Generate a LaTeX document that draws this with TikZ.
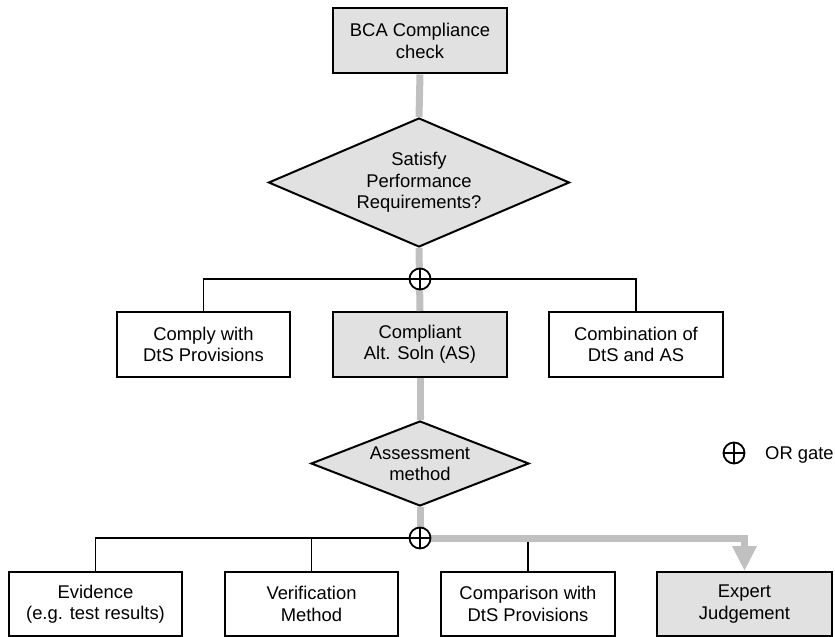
\documentclass[tikz,border=0pt]{standalone}
\usepackage{fontspec}
\setmainfont{Liberation Sans}
\usetikzlibrary{shapes.geometric,arrows.meta}
\definecolor{boxgray}{RGB}{225,225,225}
\definecolor{linkgray}{RGB}{192,192,192}
\begin{document}
\begin{tikzpicture}[x=1bp,y=-1bp,
  font=\fontsize{18.4bp}{21.3bp}\selectfont,
  box/.style={draw, line width=2bp, minimum width=174bp, minimum height=65bp, inner sep=0pt, align=center},
  graybox/.style={box, fill=boxgray},
  decision/.style={diamond, draw, line width=2bp, fill=boxgray, inner sep=0pt, align=center},
  link/.style={draw=linkgray, line width=7bp},
  wire/.style={draw=black, line width=1.6bp},
  orgate/.style={circle, draw, fill=white, line width=1.8bp, minimum size=21bp, inner sep=0pt,
    path picture={\draw[line width=1.8bp] (path picture bounding box.north) -- (path picture bounding box.south)
      (path picture bounding box.west) -- (path picture bounding box.east);}}
]
\useasboundingbox (0,0) rectangle (835,637);

% nodes
\node[graybox] (bca) at (420,41) {BCA Compliance\\check};
\node[decision, aspect=2.33, minimum width=301bp, minimum height=129bp] (sat) at (419,182.5) {Satisfy\\Performance\\Requirements?};
\node[box, minimum width=173bp] (comply) at (203.5,344.5) {Comply with\\DtS Provisions};
\node[graybox] (as) at (420,344.5) {Compliant\\Alt. Soln (AS)};
\node[box] (comb) at (636,344.5) {Combination of\\DtS and AS};
\node[decision, aspect=2.56, minimum width=218bp, minimum height=85bp] (asm) at (420,463.5) {Assessment\\method};
\node[box, minimum width=173bp, minimum height=64bp] (evid) at (95.5,604) {Evidence\\(e.g. test results)};
\node[box, minimum width=173bp, minimum height=64bp] (verif) at (311.5,604) {Verification\\Method};
\node[box, minimum height=64bp] (comp) at (528,604) {Comparison with\\DtS Provisions};
\node[graybox, minimum width=175bp, minimum height=64bp] (exp) at (744.5,604) {Expert\\Judgement};

\coordinate (or1) at (420,279);
\coordinate (or2) at (420,538);

% black connectors
\draw[wire] (comply.north) |- (or1) -| (comb.north);
\draw[wire] (evid.north) |- (or2);
\draw[wire] (verif.north) -- (verif.north |- or2);
\draw[wire] (comp.north) -- (comp.north |- or2);

% grey flow
\draw[link] (bca.south) -- (sat.north);
\draw[link] (sat.south) -- (as.north);
\draw[link] (as.south) -- (asm.north);
\draw[link] (asm.south) -- (or2);
\draw[link, -{Triangle[width=23bp,length=25bp]}] (or2) -| (exp.north);

% OR gates
\node[orgate] (or1g) at (or1) {};
\node[orgate] (or2g) at (or2) {};

% legend
\node[orgate] (legg) at (734,453) {};
\node[anchor=base west, inner sep=0pt] (legt) at (765,459) {OR gate};
\end{tikzpicture}
\end{document}
